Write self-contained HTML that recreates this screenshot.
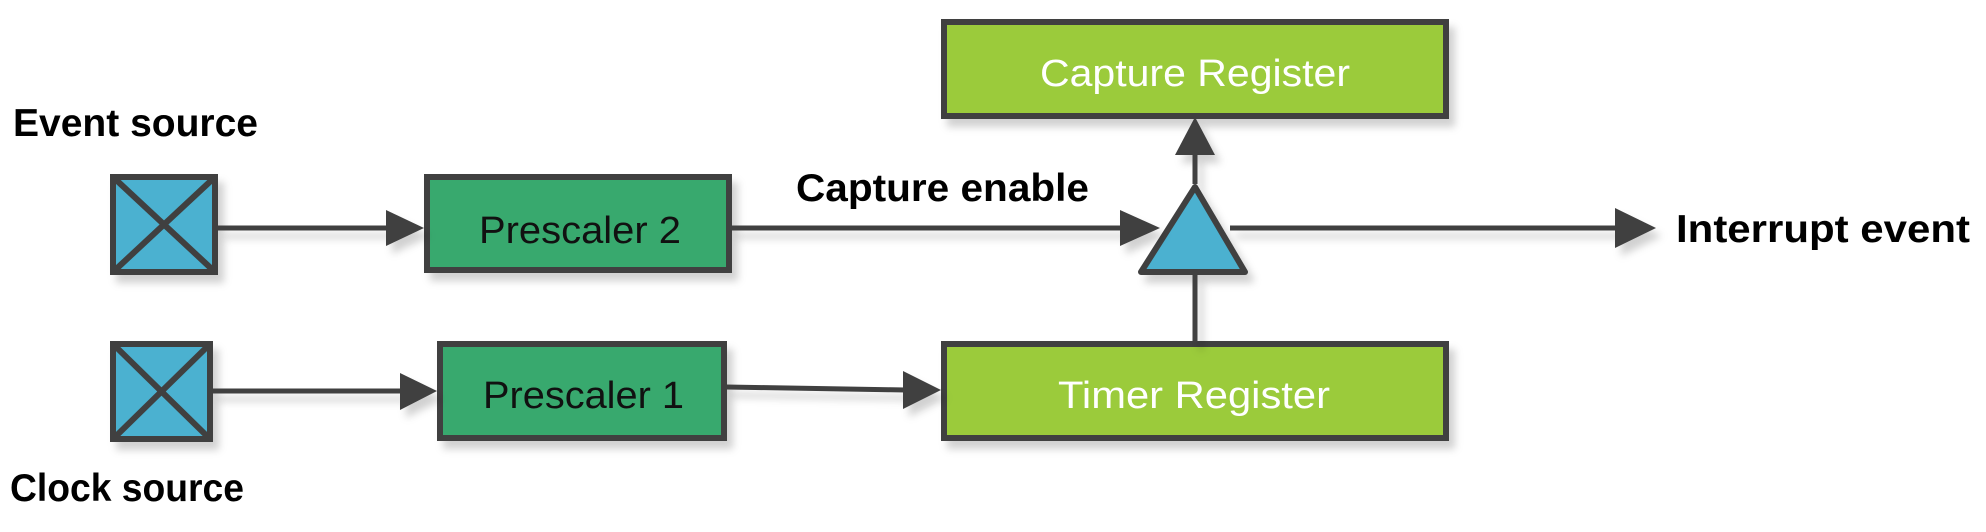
<!DOCTYPE html>
<html><head><meta charset="utf-8"><style>html,body{margin:0;padding:0;background:#fff}svg{display:block}</style></head>
<body>
<svg width="1986" height="532" viewBox="0 0 1986 532" xmlns="http://www.w3.org/2000/svg" font-family="Liberation Sans, sans-serif">
<defs>
<filter id="sh" x="-10%" y="-10%" width="130%" height="140%"><feDropShadow dx="6" dy="8" stdDeviation="4" flood-color="#000" flood-opacity="0.18"/></filter>
</defs>
<g stroke="#404040" stroke-width="6" filter="url(#sh)">
<rect x="113" y="177" width="102" height="95" fill="#4bb1d0"/>
<line x1="113" y1="177" x2="215" y2="272"/><line x1="215" y1="177" x2="113" y2="272"/>
<rect x="113" y="344" width="97" height="95" fill="#4bb1d0"/>
<line x1="113" y1="344" x2="210" y2="439"/><line x1="210" y1="344" x2="113" y2="439"/>
<rect x="427" y="177" width="302" height="93" fill="#38a96e"/>
<rect x="440" y="344" width="284" height="94" fill="#38a96e"/>
<rect x="944" y="22" width="502" height="94" fill="#9bcb3a"/>
<rect x="944" y="344" width="502" height="94" fill="#9bcb3a"/>
<polygon points="1195,187 1245,272 1141,272" fill="#4bb1d0" stroke-linejoin="round"/>
</g>
<g stroke="#404040" stroke-width="5" fill="#404040" filter="url(#sh)">
<line x1="218" y1="228" x2="390" y2="228"/><polygon points="386,210 424,228 386,246" stroke="none"/>
<line x1="212" y1="391" x2="403" y2="391"/><polygon points="400,373 437,391 400,410" stroke="none"/>
<line x1="731" y1="228" x2="1125" y2="228"/><polygon points="1120,210 1160,228 1120,246" stroke="none"/>
<line x1="726" y1="387" x2="906" y2="390"/><polygon points="903,371 941,390 903,409" stroke="none"/>
<line x1="1195" y1="184" x2="1195" y2="150"/><polygon points="1175,155 1195,117 1215,155" stroke="none"/>
<line x1="1195" y1="342" x2="1195" y2="275"/>
<line x1="1230" y1="228" x2="1620" y2="228"/><polygon points="1615,208 1656,228 1615,248" stroke="none"/>
</g>
<g font-weight="bold" fill="#000" font-size="39">
<text x="13" y="136" textLength="245" lengthAdjust="spacingAndGlyphs">Event source</text>
<text x="10" y="501" textLength="234" lengthAdjust="spacingAndGlyphs">Clock source</text>
<text x="796" y="201" textLength="293" lengthAdjust="spacingAndGlyphs">Capture enable</text>
<text x="1676" y="242" textLength="294" lengthAdjust="spacingAndGlyphs">Interrupt event</text>
</g>
<g font-size="38">
<text x="479" y="243" textLength="202" lengthAdjust="spacingAndGlyphs" fill="#111">Prescaler 2</text>
<text x="483" y="408" textLength="201" lengthAdjust="spacingAndGlyphs" fill="#111">Prescaler 1</text>
<text x="1040" y="86" textLength="310" lengthAdjust="spacingAndGlyphs" fill="#fff">Capture Register</text>
<text x="1058" y="408" textLength="272" lengthAdjust="spacingAndGlyphs" fill="#fff">Timer Register</text>
</g>
</svg>
</body></html>
